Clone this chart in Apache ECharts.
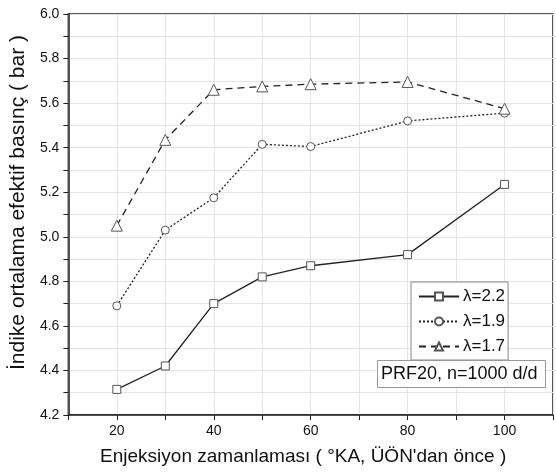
<!DOCTYPE html>
<html>
<head>
<meta charset="utf-8">
<script src="https://cdn.jsdelivr.net/npm/echarts@6/dist/echarts.min.js"></script>
<style>
  html, body { margin: 0; padding: 0; background: #fff; }
  #chart { width: 556px; height: 475px; }
</style>
</head>
<body>
<div id="chart"></div>
<script>
const timings = [20, 30, 40, 50, 60, 80, 100]
const lambda22 = [4.315, 4.42, 4.70, 4.82, 4.87, 4.92, 5.235]
const lambda19 = [4.69, 5.03, 5.175, 5.415, 5.405, 5.52, 5.555]
const lambda17 = [5.05, 5.435, 5.66, 5.675, 5.685, 5.695, 5.575]
const seriesNames = ['λ=2.2', 'λ=1.9', 'λ=1.7']

const font = 'Liberation Sans, Arial, sans-serif'
const pair = (ys) => timings.map((x, i) => [x, ys[i]])

const chart = echarts.init(document.getElementById('chart'), undefined, { renderer: 'canvas' })

const markerStyle = { color: '#fff', borderColor: '#555', borderWidth: 1 }

chart.setOption({
  animation: false,
  grid: {
    left: 67, top: 14, width: 495, height: 401,
    show: true, borderColor: '#222', borderWidth: 1.5,
  },
  title: {
    text: 'PRF20, n=1000 d/d',
    left: 377, top: 360,
    padding: [5, 8, 5, 4],
    borderColor: '#999', borderWidth: 1,
    backgroundColor: '#fff',
    textStyle: { fontFamily: font, fontSize: 18, fontWeight: 'normal', color: '#111' },
  },
  legend: {
    orient: 'vertical',
    left: 411, top: 282,
    padding: [6, 3, 5, 7],
    itemGap: 8,
    itemWidth: 40, itemHeight: 10,
    borderColor: '#888', borderWidth: 1,
    backgroundColor: '#fff',
    textStyle: { fontFamily: font, fontSize: 17, color: '#111', padding: [0, 0, 0, -1] },
    data: seriesNames,
  },
  xAxis: {
    type: 'value',
    min: 10, max: 110, interval: 10,
    name: 'Enjeksiyon zamanlaması ( °KA, ÜÖN\'dan önce )',
    nameLocation: 'middle', nameGap: 32,
    nameTextStyle: { fontFamily: font, fontSize: 19, color: '#111', padding: [0, 15, 0, 0] },
    axisLine: { lineStyle: { color: '#222', width: 1.5 } },
    axisTick: { length: 5, lineStyle: { color: '#222' } },
    axisLabel: {
      fontFamily: font, fontSize: 14, color: '#111', margin: 9,
      formatter: (v) => (v % 20 === 0 && v >= 20 && v <= 100 ? String(v) : ''),
    },
    splitLine: { lineStyle: { color: '#e4e4e4' } },
  },
  yAxis: {
    type: 'value',
    min: 4.2, max: 6.0, interval: 0.1,
    name: 'İndike ortalama efektif basınç ( bar )',
    nameLocation: 'middle', nameGap: 36,
    nameTextStyle: { fontFamily: font, fontSize: 21, color: '#111', padding: [0, 0, 0, 24] },
    axisLine: { lineStyle: { color: '#222', width: 1.5 } },
    axisTick: { length: 5, lineStyle: { color: '#222' } },
    axisLabel: {
      fontFamily: font, fontSize: 14, color: '#111', margin: 9,
      formatter: (v) => (Math.round(v * 10) % 2 === 0 ? v.toFixed(1) : ''),
    },
    splitLine: { lineStyle: { color: '#e4e4e4' } },
  },
  series: [
    {
      name: seriesNames[0], type: 'line', data: pair(lambda22),
      symbol: 'rect', symbolSize: 8, showAllSymbol: true,
      lineStyle: { color: '#222', width: 1.3, type: 'solid' },
      itemStyle: markerStyle,
    },
    {
      name: seriesNames[1], type: 'line', data: pair(lambda19),
      symbol: 'circle', symbolSize: 8, showAllSymbol: true,
      lineStyle: { color: '#222', width: 1.3, type: [2, 2] },
      itemStyle: markerStyle,
    },
    {
      name: seriesNames[2], type: 'line', data: pair(lambda17),
      symbol: 'triangle', symbolSize: 11, showAllSymbol: true,
      lineStyle: { color: '#222', width: 1.3, type: [7, 5] },
      itemStyle: markerStyle,
    },
  ],
})
</script>
</body>
</html>
